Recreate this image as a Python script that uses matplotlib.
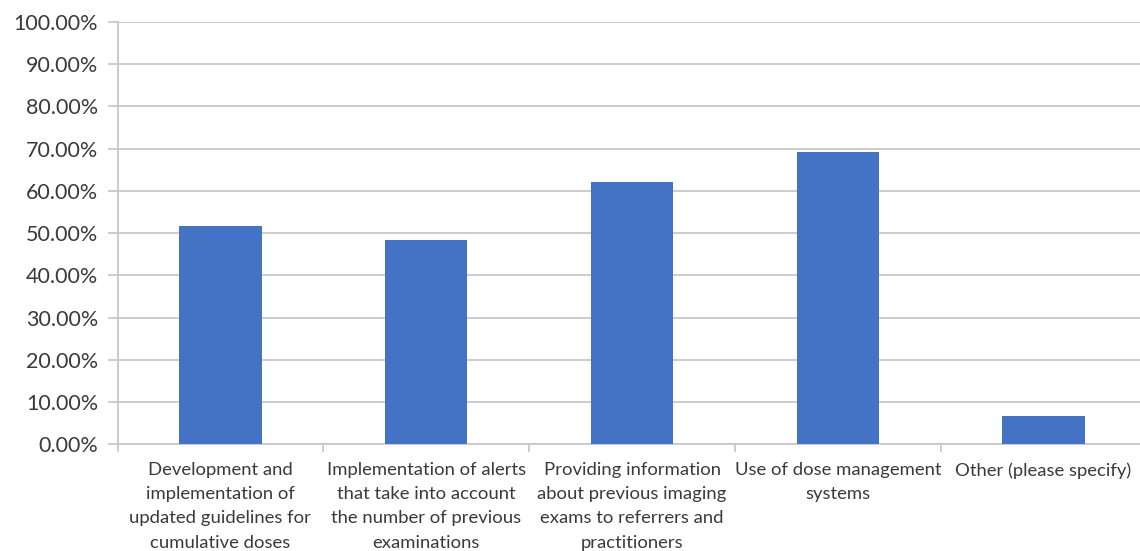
import matplotlib
matplotlib.use("Agg")
import matplotlib.pyplot as plt
from matplotlib.ticker import FuncFormatter
import numpy as np

categories = [
    "Development and\nimplementation of\nupdated guidelines for\ncumulative doses",
    "Implementation of alerts\nthat take into account\nthe number of previous\nexaminations",
    "Providing information\nabout previous imaging\nexams to referrers and\npractitioners",
    "Use of dose management\nsystems",
    "Other (please specify)",
]
values = [51.8, 48.4, 62.0, 69.1, 6.7]
y_ticks = [0, 10, 20, 30, 40, 50, 60, 70, 80, 90, 100]

BAR = "#4472C4"
GRID = "#C8C8C8"
TEXT = "#3A3A3A"

plt.rcParams["font.family"] = ["Lato", "DejaVu Sans"]

fig = plt.figure(figsize=(11.40, 5.51), dpi=100)
ax = fig.add_axes([117.5 / 1140, 1 - 444.3 / 551, 1029 / 1140, (444.3 - 22) / 551])

x = np.arange(len(categories))
ax.bar(x, values, width=0.4, color=BAR, zorder=3)

ax.set_xlim(-0.5, len(categories) - 0.5)
ax.set_ylim(0, 100)
ax.set_yticks(y_ticks)
ax.yaxis.set_major_formatter(FuncFormatter(lambda v, p: f"{v:.2f}%"))
ax.grid(axis="y", color=GRID, linewidth=1.3, zorder=0)

ax.set_xticks(x)
ax.set_xticklabels(categories, fontsize=13.3, color=TEXT, linespacing=1.62)
ax.tick_params(axis="x", length=0, pad=13)
ax.set_xticks(np.arange(-0.5, len(categories)), minor=True)
ax.tick_params(axis="x", which="minor", length=6, color=GRID, width=1.3)

ax.tick_params(axis="y", length=7, color=GRID, width=1.3, labelsize=15.5,
               labelcolor=TEXT, pad=7)

for side in ["top", "right"]:
    ax.spines[side].set_visible(False)
for side in ["left", "bottom"]:
    ax.spines[side].set_color(GRID)
    ax.spines[side].set_linewidth(1.3)

fig.savefig("out.png", dpi=100)
